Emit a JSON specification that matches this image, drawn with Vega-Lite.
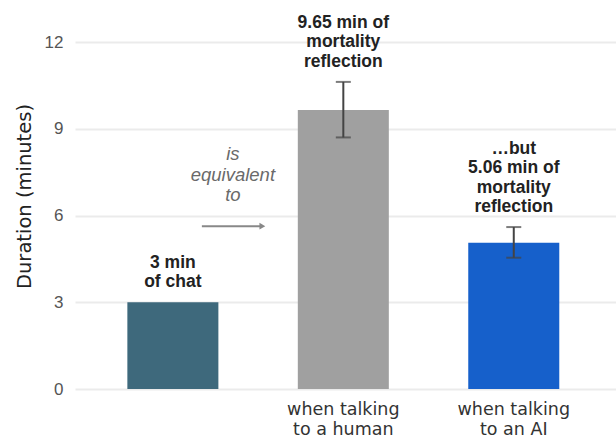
{
  "$schema": "https://vega.github.io/schema/vega-lite/v6.json",
  "width": 541,
  "height": 347,
  "autosize": {"type": "none"},
  "padding": {"left": 75, "top": 42, "right": 0, "bottom": 52},
  "background": "white",
  "config": {"view": {"stroke": null}},
  "datasets": {
    "bars": [
      {"cat": "chat", "value": 3, "lo": null, "hi": null, "label": ["3 min", "of chat"]},
      {"cat": "when talking|to a human", "value": 9.65, "lo": 8.7, "hi": 10.62, "label": ["9.65 min of", "mortality", "reflection"]},
      {"cat": "when talking|to an AI", "value": 5.06, "lo": 4.54, "hi": 5.6, "label": ["…but", "5.06 min of", "mortality", "reflection"]}
    ],
    "note": [
      {"cat": "chat", "y": 5.63, "text": ["is", "equivalent", "to"]}
    ]
  },
  "layer": [
    {
      "data": {"name": "bars"},
      "mark": {"type": "bar"},
      "encoding": {
        "x": {
          "field": "cat", "type": "nominal", "sort": null,
          "scale": {"domain": ["chat", "when talking|to a human", "when talking|to an AI"], "paddingInner": 0.466, "paddingOuter": 0.32, "align": 0.48},
          "axis": {
            "title": null, "domain": false, "ticks": false, "labelAngle": 0, "labelPadding": 11,
            "labelFont": "DejaVu Sans", "labelFontSize": 17.5, "labelColor": "#333", "labelLineHeight": 20,
            "labelBaseline": "top",
            "labelExpr": "datum.value == 'chat' ? '' : split(datum.value, '|')"
          }
        },
        "y": {
          "field": "value", "type": "quantitative", "title": "Duration (minutes)",
          "scale": {"domain": [0, 12]},
          "axis": {
            "values": [0, 3, 6, 9, 12], "domain": false, "ticks": false,
            "labelPadding": 12, "labelFont": "Liberation Sans", "labelFontSize": 17, "labelColor": "#555",
            "titleFont": "DejaVu Sans", "titleFontSize": 19.5, "titleFontWeight": "normal", "titleColor": "#222",
            "titlePadding": 10, "titleY": 154,
            "gridColor": "#ebebeb", "gridWidth": 2
          }
        },
        "color": {
          "field": "cat", "type": "nominal",
          "scale": {"domain": ["chat", "when talking|to a human", "when talking|to an AI"], "range": ["#3e697c", "#a0a0a0", "#1660cb"]},
          "legend": null
        }
      }
    },
    {
      "data": {"name": "bars"},
      "transform": [{"filter": "datum.lo != null"}],
      "mark": {"type": "errorbar", "ticks": {"size": 15}, "thickness": 2, "color": "#444"},
      "encoding": {
        "x": {"field": "cat", "type": "nominal", "sort": null},
        "y": {"field": "lo", "type": "quantitative", "title": "Duration (minutes)"},
        "y2": {"field": "hi"}
      }
    },
    {
      "data": {"name": "bars"},
      "transform": [
        {"calculate": "datum.hi != null ? datum.hi : datum.value", "as": "top"},
        {"calculate": "reverse(datum.label)", "as": "lines"}
      ],
      "mark": {"type": "text", "font": "Liberation Sans", "fontWeight": "bold", "fontSize": 17.5, "color": "#222", "lineHeight": -19.5, "baseline": "alphabetic", "align": "center", "dy": -15},
      "encoding": {
        "x": {"field": "cat", "type": "nominal", "sort": null},
        "y": {"field": "top", "type": "quantitative", "title": "Duration (minutes)"},
        "text": {"field": "lines"}
      }
    },
    {
      "data": {"name": "note"},
      "transform": [{"calculate": "reverse(datum.text)", "as": "lines"}],
      "mark": {"type": "text", "font": "Liberation Sans", "fontStyle": "italic", "fontSize": 18.5, "color": "#6a6a6a", "lineHeight": -20.5, "baseline": "alphabetic", "align": "center", "dx": 60, "dy": -25},
      "encoding": {
        "x": {"field": "cat", "type": "nominal", "sort": null},
        "y": {"field": "y", "type": "quantitative", "title": "Duration (minutes)"},
        "text": {"field": "lines"}
      }
    },
    {
      "data": {"name": "note"},
      "mark": {"type": "rule", "color": "#888", "strokeWidth": 2, "xOffset": 29, "x2Offset": 88.5},
      "encoding": {
        "x": {"field": "cat", "type": "nominal", "sort": null},
        "x2": {"field": "cat"},
        "y": {"field": "y", "type": "quantitative", "title": "Duration (minutes)"}
      }
    },
    {
      "data": {"name": "note"},
      "mark": {"type": "point", "shape": "triangle-right", "filled": true, "size": 45, "color": "#888", "opacity": 1, "xOffset": 89.5},
      "encoding": {
        "x": {"field": "cat", "type": "nominal", "sort": null},
        "y": {"field": "y", "type": "quantitative", "title": "Duration (minutes)"}
      }
    }
  ]
}
